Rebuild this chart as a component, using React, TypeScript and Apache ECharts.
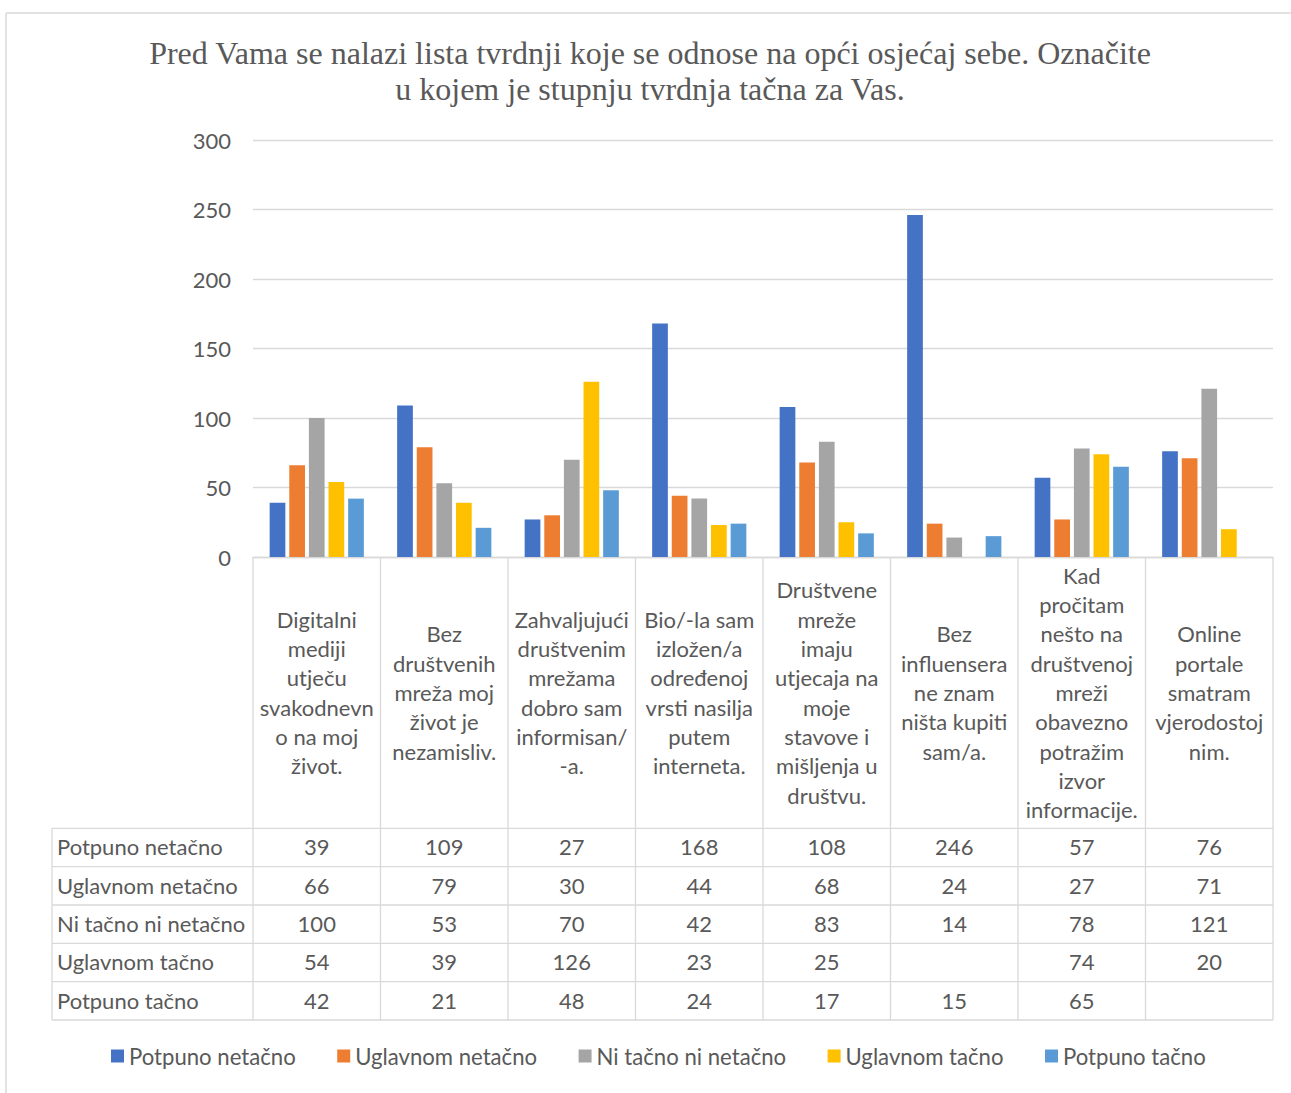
import React, { useEffect, useRef } from "react";
import * as echarts from "echarts";

const titleText =
  "Pred Vama se nalazi lista tvrdnji koje se odnose na opći osjećaj sebe. Označite\nu kojem je stupnju tvrdnja tačna za Vas.";

const categories = [
  "Digitalni\nmediji\nutječu\nsvakodnevn\no na moj\nživot.",
  "Bez\ndruštvenih\nmreža moj\nživot je\nnezamisliv.",
  "Zahvaljujući\ndruštvenim\nmrežama\ndobro sam\ninformisan/\n-a.",
  "Bio/-la sam\nizložen/a\nodređenoj\nvrsti nasilja\nputem\ninterneta.",
  "Društvene\nmreže\nimaju\nutjecaja na\nmoje\nstavove i\nmišljenja u\ndruštvu.",
  "Bez\ninfluensera\nne znam\nništa kupiti\nsam/a.",
  "Kad\npročitam\nnešto na\ndruštvenoj\nmreži\nobavezno\npotražim\nizvor\ninformacije.",
  "Online\nportale\nsmatram\nvjerodostoj\nnim.",
];

const seriesNames = [
  "Potpuno netačno",
  "Uglavnom netačno",
  "Ni tačno ni netačno",
  "Uglavnom tačno",
  "Potpuno tačno",
];

const potpunoNetacno = [39, 109, 27, 168, 108, 246, 57, 76];
const uglavnomNetacno = [66, 79, 30, 44, 68, 24, 27, 71];
const niTacnoNiNetacno = [100, 53, 70, 42, 83, 14, 78, 121];
const uglavnomTacno = [54, 39, 126, 23, 25, null, 74, 20];
const potpunoTacno = [42, 21, 48, 24, 17, 15, 65, null];

const seriesValues = [potpunoNetacno, uglavnomNetacno, niTacnoNiNetacno, uglavnomTacno, potpunoTacno];
const colors = ["#4472C4", "#ED7D31", "#A5A5A5", "#FFC000", "#5B9BD5"];

const yMin = 0;
const yMax = 300;
const yInterval = 50;

const FONT = "Lato";
const FS = 22;
const TXT = "#595959";
const LINE = "#D9D9D9";

export default function App() {
  const ref = useRef<HTMLDivElement>(null);
  useEffect(() => {
    const chart = echarts.init(ref.current!, null, { renderer: "svg" });
    const W = 1291;
    const H = 1093;
    const gridLeft = 253;
    const gridRight = 18;
    const gridTop = 140;
    const gridBottom = H - 557;
    chart.setOption({
      animation: false,
      title: {
        text: titleText,
        left: 650,
        top: 35,
        padding: 0,
        textAlign: "center",
        textStyle: {
          fontFamily: "Liberation Serif",
          fontSize: 32,
          lineHeight: 36,
          fontWeight: "normal",
          color: TXT,
        },
      },
      legend: {
        left: 111,
        top: 1045,
        padding: 0,
        itemWidth: 13,
        itemHeight: 13,
        itemGap: 41.5,
        icon: "rect",
        textStyle: { fontFamily: FONT, fontSize: 22.15, color: TXT },
        data: seriesNames,
      },
      grid: { left: gridLeft, right: gridRight, top: gridTop, bottom: gridBottom, containLabel: false },
      xAxis: {
        type: "category",
        data: categories,
        axisLine: { show: true, lineStyle: { color: LINE, width: 1.3 } },
        axisTick: { show: false },
        axisLabel: {
          interval: 0,
          margin: 135.5,
          verticalAlign: "middle",
          fontFamily: FONT,
          fontSize: FS,
          lineHeight: 29.3,
          color: TXT,
        },
      },
      yAxis: {
        type: "value",
        min: yMin,
        max: yMax,
        interval: yInterval,
        axisLine: { show: false },
        axisTick: { show: false },
        splitLine: { lineStyle: { color: LINE, width: 1.3 } },
        axisLabel: { margin: 22, fontFamily: FONT, fontSize: FS, color: TXT },
      },
      series: seriesNames.map((name, i) => ({
        name,
        type: "bar",
        data: seriesValues[i],
        barWidth: 15.7,
        barGap: "25%",
        itemStyle: { color: colors[i] },
      })),
    });

    const centers = categories.map((_, i) => chart.convertToPixel({ xAxisIndex: 0 }, i) as number);
    const bw = centers[1] - centers[0];
    const bounds = centers.map((c) => c - bw / 2).concat([centers[centers.length - 1] + bw / 2]);
    const y0 = chart.convertToPixel({ yAxisIndex: 0 }, 0) as number;
    const tableTop = 828.3;
    const rowH = 38.34;
    const tableLeft = 52;
    const tableBottom = tableTop + rowH * seriesNames.length;
    const ls = { stroke: LINE, lineWidth: 1.3 };
    const els: any[] = [];
    // outer chart border
    els.push({ type: "line", shape: { x1: 6, y1: 13, x2: W, y2: 13 }, style: { stroke: LINE, lineWidth: 1.5 } });
    els.push({ type: "line", shape: { x1: 6, y1: 13, x2: 6, y2: H }, style: { stroke: LINE, lineWidth: 1.5 } });
    // vertical lines
    bounds.forEach((bx) => {
      els.push({ type: "line", shape: { x1: bx, y1: y0, x2: bx, y2: tableBottom }, style: ls });
    });
    els.push({ type: "line", shape: { x1: tableLeft, y1: tableTop, x2: tableLeft, y2: tableBottom }, style: ls });
    // horizontal lines
    for (let r = 0; r <= seriesNames.length; r++) {
      const yy = tableTop + r * rowH;
      els.push({ type: "line", shape: { x1: tableLeft, y1: yy, x2: bounds[bounds.length - 1], y2: yy }, style: ls });
    }
    // row labels and values
    seriesNames.forEach((name, r) => {
      const cy = tableTop + (r + 0.5) * rowH - 0.8;
      els.push({
        type: "text",
        x: tableLeft + 5,
        y: cy,
        style: { text: name, textAlign: "left", textVerticalAlign: "middle", fontFamily: FONT, fontSize: FS, fill: TXT },
      });
      seriesValues[r].forEach((v, i) => {
        if (v === null || v === undefined) return;
        els.push({
          type: "text",
          x: centers[i],
          y: cy,
          style: { text: String(v), textAlign: "center", textVerticalAlign: "middle", fontFamily: FONT, fontSize: FS, fill: TXT },
        });
      });
    });
    chart.setOption({ graphic: els });

    return () => chart.dispose();
  }, []);
  return <div ref={ref} style={{ position: "absolute", left: 0, top: 0, width: 1291, height: 1093 }} />;
}
